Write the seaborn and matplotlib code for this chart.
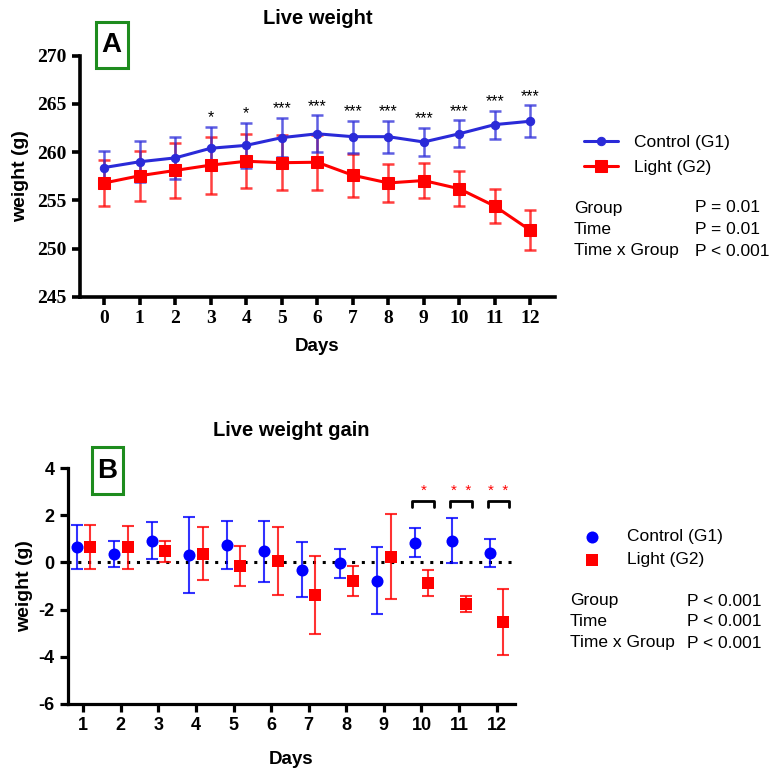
import numpy as np
import pandas as pd
import seaborn as sns
import matplotlib.pyplot as plt
from matplotlib.patches import Rectangle

# Panel A: live weight (mean, SD)
days_a = list(range(13))
control_wt = [258.4, 259.0, 259.4, 260.4, 260.7, 261.5, 261.9, 261.6, 261.6, 261.05, 261.9, 262.85, 263.2]
control_wt_sd = [1.75, 2.1, 2.2, 2.25, 2.35, 2.05, 1.9, 1.65, 1.65, 1.45, 1.4, 1.45, 1.65]
light_wt = [256.8, 257.55, 258.1, 258.65, 259.05, 258.9, 258.95, 257.6, 256.8, 257.05, 256.2, 254.4, 251.9]
light_wt_sd = [2.4, 2.6, 2.85, 2.95, 2.8, 2.85, 2.85, 2.25, 2.0, 1.85, 1.8, 1.8, 2.05]
stars_a = ["", "", "", "*", "*", "***", "***", "***", "***", "***", "***", "***", "***"]

# Panel B: live weight gain (mean, SD)
days_b = list(range(1, 13))
control_gain = [0.67, 0.37, 0.92, 0.31, 0.76, 0.47, -0.30, -0.04, -0.78, 0.84, 0.93, 0.40]
control_gain_sd = [0.94, 0.56, 0.78, 1.62, 1.02, 1.31, 1.17, 0.62, 1.42, 0.62, 0.96, 0.58]
light_gain = [0.67, 0.64, 0.47, 0.38, -0.17, 0.07, -1.40, -0.78, 0.25, -0.89, -1.78, -2.51]
light_gain_sd = [0.94, 0.90, 0.44, 1.12, 0.85, 1.44, 1.66, 0.64, 1.80, 0.55, 0.34, 1.40]
sig_days_b = [10, 11, 12]
stars_b = ["*", "*  *", "*  *"]

stats_a = [("Group", "P = 0.01"), ("Time", "P = 0.01"), ("Time x Group", "P < 0.001")]
stats_b = [("Group", "P < 0.001"), ("Time", "P < 0.001"), ("Time x Group", "P < 0.001")]

sns.set_style("ticks")
plt.rcParams['font.family'] = ['Liberation Sans', 'DejaVu Sans']
plt.rcParams['axes.unicode_minus'] = False
for k in ["text.color", "axes.labelcolor", "axes.edgecolor", "xtick.color", "ytick.color"]:
    plt.rcParams[k] = "black"

W, H = 772, 769
fig = plt.figure(figsize=(W / 100, H / 100), dpi=100)


def px(x0, y0, x1, y1):
    """ pixel box (from top-left) -> figure rect """
    return [x0 / W, 1 - y1 / H, (x1 - x0) / W, (y1 - y0) / H]


def style_axes(ax, lw=2.3):
    sns.despine(ax=ax)
    for s in ["left", "bottom"]:
        ax.spines[s].set_linewidth(lw)
    ax.tick_params(width=lw, length=6, direction="out")
    ax.grid(False)


def letter_box(x0, y0, x1, y1, letter):
    fig.patches.append(Rectangle((x0 / W, 1 - y1 / H), (x1 - x0) / W, (y1 - y0) / H,
                                 transform=fig.transFigure, fill=False,
                                 ec="#1e8c1e", lw=2.2))
    fig.text((x0 + x1) / 2 / W, 1 - (y0 + y1) / 2 / H, letter, ha="center", va="center",
             fontsize=20, fontweight="bold")


blue_a = "#2a2ad8"
red = "#ff0000"

# ---- Panel A
ax_a = fig.add_axes(px(80, 55.7, 555, 296.7))
df_a = pd.DataFrame({"day": days_a * 2,
                     "weight": control_wt + light_wt,
                     "sd": control_wt_sd + light_wt_sd,
                     "group": ["Control (G1)"] * 13 + ["Light (G2)"] * 13})

for grp, col, mk, ms in [("Light (G2)", red, "s", 8), ("Control (G1)", blue_a, "o", 6)]:
    sub = df_a[df_a["group"] == grp]
    ax_a.errorbar(sub["day"], sub["weight"], yerr=sub["sd"], fmt="none", ecolor=col,
                  elinewidth=1.8, capsize=4.5, capthick=1.8, alpha=0.75, zorder=2)
    sns.lineplot(data=sub, x="day", y="weight", color=col, marker=mk, markersize=ms,
                 markeredgecolor=col, lw=2.2, label=grp, ax=ax_a, zorder=3)

for d, s, m, sd in zip(days_a, stars_a, control_wt, control_wt_sd):
    if s:
        ax_a.annotate(s, (d, m + sd), xytext=(0, 1), textcoords="offset points",
                      ha="center", va="bottom", fontsize=11.5)

ax_a.set_xlim(-0.685, 12.7)
ax_a.set_ylim(245, 270)
ax_a.set_xticks(days_a)
ax_a.set_yticks([245, 250, 255, 260, 265, 270])
for lab in ax_a.get_xticklabels() + ax_a.get_yticklabels():
    lab.set_fontfamily("Liberation Serif")
    lab.set_fontweight("bold")
    lab.set_fontsize(14)
ax_a.set_xlabel("Days", fontsize=13.5, fontweight="bold", labelpad=8)
ax_a.set_ylabel("weight (g)", fontsize=14, fontweight="bold", labelpad=6)
style_axes(ax_a, 2.6)

handles, labels = ax_a.get_legend_handles_labels()
order = [labels.index("Control (G1)"), labels.index("Light (G2)")]
ax_a.legend([handles[i] for i in order], [labels[i] for i in order],
            loc="center left", bbox_to_anchor=(568 / W, 1 - 155 / H),
            bbox_transform=fig.transFigure, frameon=False, fontsize=12.5,
            handlelength=2.0, handletextpad=0.9, labelspacing=0.55)

for i, (k, v) in enumerate(stats_a):
    y = 1 - (208 + i * 21.5) / H
    fig.text(574 / W, y, k, fontsize=12.5, va="center")
    fig.text(695 / W, y, v, fontsize=12.5, va="center")

fig.text(317.5 / W, 1 - 18 / H, "Live weight", ha="center", va="center",
         fontsize=14.5, fontweight="bold")
letter_box(95.7, 21.7, 127.7, 67.7, "A")

# ---- Panel B
ax_b = fig.add_axes(px(67.7, 468.3, 515, 703.7))
off = 0.18
df_b = pd.DataFrame({"x": [d - off for d in days_b] + [d + off for d in days_b],
                     "gain": control_gain + light_gain,
                     "sd": control_gain_sd + light_gain_sd,
                     "group": ["Control (G1)"] * 12 + ["Light (G2)"] * 12})

ax_b.axhline(0, color="black", ls=(0, (1, 2.2)), lw=2.2, zorder=1)
for grp, col, mk in [("Control (G1)", "#0000ff", "o"), ("Light (G2)", red, "s")]:
    sub = df_b[df_b["group"] == grp]
    ax_b.errorbar(sub["x"], sub["gain"], yerr=sub["sd"], fmt="none", ecolor=col,
                  elinewidth=1.5, capsize=4, capthick=1.5, alpha=0.8, zorder=2)
    sns.scatterplot(data=sub, x="x", y="gain", color=col, marker=mk, s=75,
                    edgecolor=col, linewidth=0, label=grp, ax=ax_b, zorder=3)

for d, s in zip(sig_days_b, stars_b):
    x0, x1 = d - 0.24, d + 0.34
    ax_b.plot([x0, x0, x1, x1], [2.34, 2.59, 2.59, 2.34], color="black", lw=2, zorder=3)
    ax_b.text(d + 0.05, 3.05, s, color=red, ha="center", va="center", fontsize=11)

ax_b.set_xlim(0.585, 12.49)
ax_b.set_ylim(-6, 4)
ax_b.set_xticks(days_b)
ax_b.set_yticks([-6, -4, -2, 0, 2, 4])
ax_b.tick_params(labelsize=13)
for lab in ax_b.get_xticklabels() + ax_b.get_yticklabels():
    lab.set_fontweight("bold")
ax_b.set_xlabel("Days", fontsize=13.5, fontweight="bold", labelpad=12)
ax_b.set_ylabel("weight (g)", fontsize=14, fontweight="bold", labelpad=4)
style_axes(ax_b, 2.3)

ax_b.legend(loc="center left", bbox_to_anchor=(566 / W, 1 - 548 / H),
            bbox_transform=fig.transFigure, frameon=False, fontsize=12.5,
            handlelength=1.2, handletextpad=1.4, labelspacing=0.45)

for i, (k, v) in enumerate(stats_b):
    y = 1 - (601 + i * 21) / H
    fig.text(570 / W, y, k, fontsize=12.5, va="center")
    fig.text(687 / W, y, v, fontsize=12.5, va="center")

fig.text(291 / W, 1 - 431 / H, "Live weight gain", ha="center", va="center",
         fontsize=14.5, fontweight="bold")
letter_box(91.7, 447.3, 123.3, 493.7, "B")

fig.savefig("out.png", dpi=100)
